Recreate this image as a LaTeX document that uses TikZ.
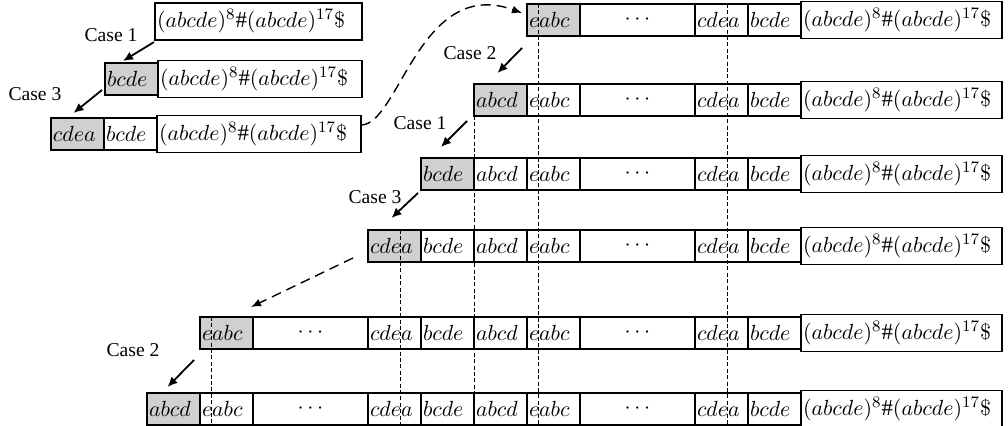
\documentclass[tikz,border=0pt]{standalone}
\usepackage{fontspec}
\setmainfont{Liberation Serif}
\usetikzlibrary{positioning,chains,calc,arrows.meta}
\definecolor{boxgrey}{RGB}{208,208,208}
\tikzset{
  cell/.style={draw, line width=0.8pt, outer sep=0pt, minimum height=16pt,
    inner xsep=1pt, text width=24.5pt, align=left, font=\fontsize{11.4}{13}\selectfont},
  greycell/.style={cell, fill=boxgrey},
  dotcell/.style={cell, text width=55.5pt, align=center},
  tailcell/.style={cell, text width=98.5pt},
  caselabel/.style={font=\fontsize{9.8}{11}\selectfont, inner sep=0pt},
  casearrow/.style={line width=0.9pt, -{Latex[length=5pt,width=4.5pt]}},
  jumparrow/.style={line width=0.7pt, dash pattern=on 5pt off 3pt, -{Latex[length=5pt,width=4pt]}},
  guide/.style={line width=0.4pt, dash pattern=on 2pt off 1.2pt},
}
\newcommand{\tailtext}{$(abcde)^{8}\#(abcde)^{17}\$$}
\begin{document}
\begin{tikzpicture}[x=0.5pt,y=-0.5pt,node distance=0pt]
\useasboundingbox (0,0) rectangle (1008,426);
% left group
\begin{scope}[start chain=L1 going right]
\node[tailcell,text width=101.5pt,on chain,anchor=north west] at (155,3) {\tailtext};
\end{scope}
\begin{scope}[start chain=L2 going right]
\node[greycell,on chain,anchor=north west] at (105,63) {$bcde$};
\node[tailcell,text width=100pt,on chain] {\tailtext};
\end{scope}
\begin{scope}[start chain=L3 going right]
\node[greycell,on chain,anchor=north west] at (51,118) {$cdea$};
\node[cell,on chain] {$bcde$};
\node[tailcell,text width=100pt,on chain] {\tailtext};
\end{scope}
% right group
\begin{scope}[start chain=R1 going right]
\node[greycell,on chain,anchor=north west] at (527,4) {$eabc$};
\node[dotcell,on chain] {$\cdots$};
\node[cell,on chain] {$cdea$};
\node[cell,on chain] {$bcde$};
\node[tailcell,on chain] {\tailtext};
\end{scope}
\begin{scope}[start chain=R2 going right]
\node[greycell,on chain,anchor=north west] at (474,84) {$abcd$};
\node[cell,on chain] {$eabc$};
\node[dotcell,on chain] {$\cdots$};
\node[cell,on chain] {$cdea$};
\node[cell,on chain] {$bcde$};
\node[tailcell,on chain] {\tailtext};
\end{scope}
\begin{scope}[start chain=R3 going right]
\node[greycell,on chain,anchor=north west] at (421,158) {$bcde$};
\node[cell,on chain] {$abcd$};
\node[cell,on chain] {$eabc$};
\node[dotcell,on chain] {$\cdots$};
\node[cell,on chain] {$cdea$};
\node[cell,on chain] {$bcde$};
\node[tailcell,on chain] {\tailtext};
\end{scope}
\begin{scope}[start chain=R4 going right]
\node[greycell,on chain,anchor=north west] at (368,230) {$cdea$};
\node[cell,on chain] {$bcde$};
\node[cell,on chain] {$abcd$};
\node[cell,on chain] {$eabc$};
\node[dotcell,on chain] {$\cdots$};
\node[cell,on chain] {$cdea$};
\node[cell,on chain] {$bcde$};
\node[tailcell,on chain] {\tailtext};
\end{scope}
\begin{scope}[start chain=R5 going right]
\node[greycell,on chain,anchor=north west] at (200,317) {$eabc$};
\node[dotcell,on chain] {$\cdots$};
\node[cell,on chain] {$cdea$};
\node[cell,on chain] {$bcde$};
\node[cell,on chain] {$abcd$};
\node[cell,on chain] {$eabc$};
\node[dotcell,on chain] {$\cdots$};
\node[cell,on chain] {$cdea$};
\node[cell,on chain] {$bcde$};
\node[tailcell,on chain] {\tailtext};
\end{scope}
\begin{scope}[start chain=R6 going right]
\node[greycell,on chain,anchor=north west] at (147,393) {$abcd$};
\node[cell,on chain] {$eabc$};
\node[dotcell,on chain] {$\cdots$};
\node[cell,on chain] {$cdea$};
\node[cell,on chain] {$bcde$};
\node[cell,on chain] {$abcd$};
\node[cell,on chain] {$eabc$};
\node[dotcell,on chain] {$\cdots$};
\node[cell,on chain] {$cdea$};
\node[cell,on chain] {$bcde$};
\node[tailcell,on chain] {\tailtext};
\end{scope}
% alignment guides
\coordinate (v1) at ($(R1-1.north west)+(11.5,0)$);
\coordinate (v2) at ($(R1-3.north west)+(32.5,0)$);
\coordinate (v3) at (R2-1.south west);
\coordinate (v4) at ($(R4-1.north west)+(32.5,0)$);
\coordinate (v5) at ($(R5-1.north west)+(11.5,0)$);
\foreach \v in {v1,v2,v3,v4,v5}
{ \draw[guide] (\v) -- (\v |- R6-1.south);
}
% case labels
\node[caselabel] (c1a) at (111,35) {Case 1};
\node[caselabel] (c3a) at (35,94) {Case 3};
\node[caselabel] (c2a) at (470,53) {Case 2};
\node[caselabel] (c1b) at (420,123) {Case 1};
\node[caselabel] (c3b) at (375,197) {Case 3};
\node[caselabel] (c2b) at (133,350) {Case 2};
% arrows
\draw[casearrow] ($(L1-1.south west)+(-1,2)$) -- ($(L2-1.north)+(-8.5,-2)$);
\draw[casearrow] ($(L2-1.south west)+(-3,-5)$) -- ($(L3-1.north)+(-4,-5)$);
\draw[casearrow] ($(R1-1.south west)+(-5,12)$) -- ($(R2-1.north)+(-3,-11)$);
\draw[casearrow] ($(R2-1.south west)+(-7,5)$) -- ($(R3-1.north)+(-6.5,-11)$);
\draw[casearrow] ($(R3-1.south west)+(-3,3)$) -- ($(R4-1.north)+(-3,-12)$);
\draw[casearrow] ($(R5-1.south west)+(-6,11)$) -- ($(R6-1.north)+(-6,-6)$);
\draw[jumparrow] ($(L3-3.east)+(0,-9)$) .. controls +(38,0) and +(-102,-37) .. ($(R1-1.west)+(-5,-7)$);
\draw[jumparrow] ($(R4-1.south west)+(-15,-4)$) -- ($(R5-1.north east)+(-2,-10)$);
\end{tikzpicture}
\end{document}
